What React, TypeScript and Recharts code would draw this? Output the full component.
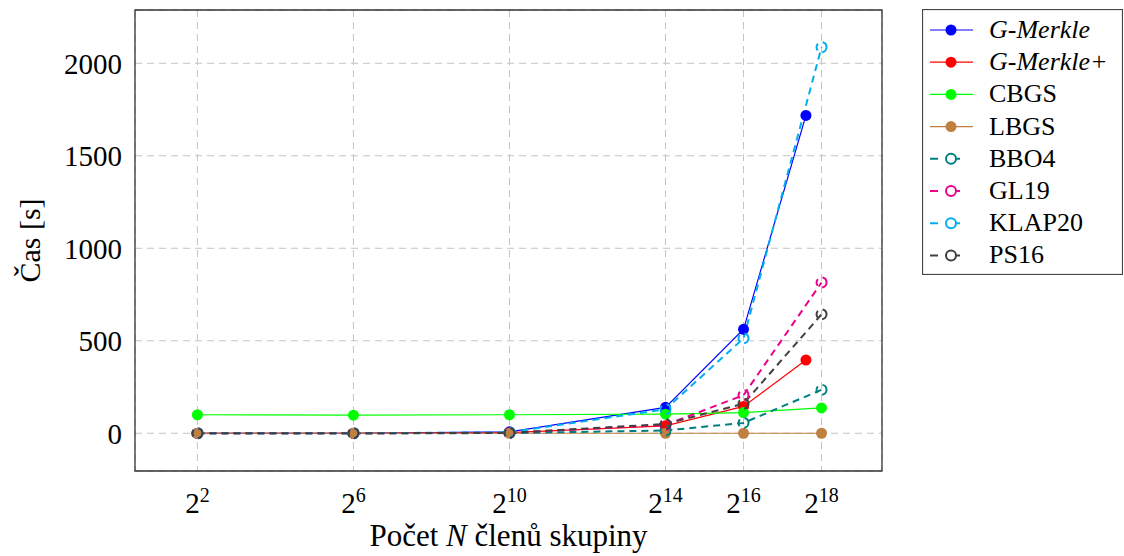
import { LineChart, Line, XAxis, YAxis, CartesianGrid, ReferenceArea, Legend } from 'recharts'

const FONT = 'Liberation Serif'

// force the serif face on every chart text, whatever else styles it
const fontCss = `
html body #root#root .recharts-wrapper text,
html body #root#root .recharts-wrapper tspan,
html body #root#root svg text,
html body #root#root svg tspan {
  font-family: 'Liberation Serif', 'Times New Roman', serif !important;
}
html body #root#root svg text[font-style='italic'],
html body #root#root svg tspan[font-style='italic'] {
  font-style: italic !important;
}
`

// x positions as log2(N)
const xExp = [2, 6, 10, 14, 16, 18]
const xExpMerkle = [2, 6, 10, 14, 16, 17.6]
const xTicks = [2, 6, 10, 14, 16, 18]
const yTicks = [0, 500, 1000, 1500, 2000]

const gMerkle = [0, 0, 8, 140, 562, 1718]
const gMerklePlus = [0, 0, 3, 40, 145, 396]
const cbgs = [100, 98, 100, 103, 112, 137]
const lbgs = [0, 0, 0, 0, 0, 0]
const bbo4 = [0, 0, 1, 15, 56, 235]
const gl19 = [0, 0, 3, 45, 206, 815]
const klap20 = [0, 0, 5, 130, 513, 2087]
const ps16 = [0, 0, 2, 50, 160, 643]

type Series = { name: string; italic: boolean; color: string; dashed: boolean; xs: number[]; values: number[] }

const series: Series[] = [
  { name: 'G-Merkle', italic: true, color: '#0000ff', dashed: false, xs: xExpMerkle, values: gMerkle },
  { name: 'G-Merkle+', italic: true, color: '#ff0000', dashed: false, xs: xExpMerkle, values: gMerklePlus },
  { name: 'CBGS', italic: false, color: '#00ff00', dashed: false, xs: xExp, values: cbgs },
  { name: 'LBGS', italic: false, color: '#bf8040', dashed: false, xs: xExp, values: lbgs },
  { name: 'BBO4', italic: false, color: '#008080', dashed: true, xs: xExp, values: bbo4 },
  { name: 'GL19', italic: false, color: '#ec008c', dashed: true, xs: xExp, values: gl19 },
  { name: 'KLAP20', italic: false, color: '#00aeef', dashed: true, xs: xExp, values: klap20 },
  { name: 'PS16', italic: false, color: '#404040', dashed: true, xs: xExp, values: ps16 },
]

const DASH = '7 5'

function PowerTick({ x, y, payload }: any) {
  return (
    <text x={x} y={y + 34} textAnchor="middle" fontFamily={FONT} fontSize={29} fill="#000">
      2<tspan dy={-11} fontSize={20}>{payload.value}</tspan>
    </text>
  )
}

function XLabel({ viewBox }: any) {
  const cx = viewBox.x + viewBox.width / 2
  return (
    <text x={cx} y={viewBox.y + 75} textAnchor="middle" fontFamily={FONT} fontSize={31} fill="#000">
      Počet <tspan fontStyle="italic">N</tspan> členů skupiny
    </text>
  )
}

function YLabel({ viewBox }: any) {
  const cy = viewBox.y + viewBox.height / 2
  return (
    <text
      x={40}
      y={cy}
      transform={`rotate(-90 40 ${cy})`}
      textAnchor="middle"
      fontFamily={FONT}
      fontSize={30}
      fill="#000"
    >
      Čas [s]
    </text>
  )
}

function LegendBox() {
  return (
    <svg width={201} height={266} style={{ display: 'block' }}>
      <rect x={0.5} y={0.5} width={200} height={265} fill="#fff" stroke="#444" strokeWidth={1.2} />
      {series.map((s, i) => {
        const cy = 21 + i * 32.2
        return (
          <g key={s.name}>
            <line
              x1={8}
              x2={51}
              y1={cy}
              y2={cy}
              stroke={s.color}
              strokeWidth={s.dashed ? 2 : 1.2}
              strokeDasharray={s.dashed ? '8 14' : undefined}
            />
            {s.dashed ? (
              <circle cx={29} cy={cy} r={5} fill="#fff" stroke={s.color} strokeWidth={2} />
            ) : (
              <circle cx={29} cy={cy} r={5.5} fill={s.color} />
            )}
            <text
              x={67}
              y={cy + 8}
              fontFamily={FONT}
              fontSize={26}
              fontStyle={s.italic ? 'italic' : 'normal'}
              fill="#000"
            >
              {s.name}
            </text>
          </g>
        )
      })}
    </svg>
  )
}

export default function App() {
  return (
    <div style={{ position: 'absolute', left: 0, top: 0, background: '#fff', fontFamily: FONT }}>
      <style>{fontCss}</style>
      <LineChart width={1124} height={556} margin={{ top: 10, right: 242, bottom: 0, left: 0 }}>
        <CartesianGrid stroke="#c4c4c4" strokeDasharray={DASH} strokeWidth={1} />
        <XAxis
          type="number"
          dataKey="x"
          domain={[0.4, 19.55]}
          ticks={xTicks}
          allowDataOverflow
          height={85}
          axisLine={false}
          tickLine={false}
          tick={<PowerTick />}
          label={<XLabel />}
        />
        <YAxis
          type="number"
          domain={[-204, 2288]}
          ticks={yTicks}
          allowDataOverflow
          width={135}
          axisLine={false}
          tickLine={false}
          tickMargin={7}
          tick={{ fontFamily: FONT, fontSize: 29, fill: '#000' }}
          label={<YLabel />}
        />
        <ReferenceArea x1={0.4} x2={19.55} y1={-204} y2={2288} fill="none" stroke="#333" strokeWidth={1.3} ifOverflow="visible" />
        {series.map((s) => (
          <Line
            key={s.name}
            data={s.values.map((v, i) => ({ x: s.xs[i], y: v }))}
            dataKey="y"
            name={s.name}
            type="linear"
            stroke={s.color}
            strokeWidth={s.dashed ? 2 : 1.2}
            strokeDasharray={s.dashed ? DASH : undefined}
            dot={
              s.dashed
                ? { r: 5, fill: 'none', stroke: s.color, strokeWidth: 2 }
                : { r: 5.5, fill: s.color, stroke: s.color, strokeWidth: 0 }
            }
            activeDot={false}
            isAnimationActive={false}
          />
        ))}
        <Legend
          layout="horizontal"
          verticalAlign="middle"
          align="center"
          content={() => <LegendBox />}
          wrapperStyle={{ left: 922, top: 9, width: 202, height: 267 }}
        />
      </LineChart>
    </div>
  )
}
